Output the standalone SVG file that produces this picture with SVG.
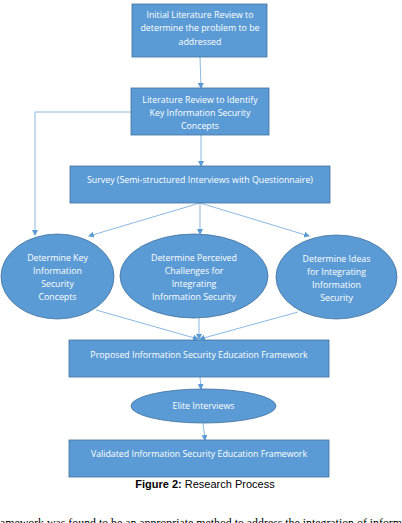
<svg xmlns="http://www.w3.org/2000/svg" width="402" height="523" viewBox="0 0 402 523">
<style>
.n{fill:#5b9bd5;stroke:#41719c;stroke-width:0.8}
.t{font-family:"Open Sans","Liberation Sans",sans-serif;font-size:8.8px;fill:#ffffff;text-anchor:middle}
.c{fill:none;stroke:#7fb0de;stroke-width:0.9}
.cap{font-family:"Liberation Sans",Arial,sans-serif;font-size:11px;fill:#000;text-anchor:middle}
</style>
<defs>
<marker id="ah" markerWidth="6" markerHeight="6" refX="5" refY="3" orient="auto" markerUnits="userSpaceOnUse">
<path d="M0,0 L6,3 L0,6 Z" fill="#5b9bd5"/>
</marker>
</defs>
<rect width="402" height="523" fill="#ffffff"/>
<g id="connectors">
<path class="c" d="M200,57 L201,88" marker-end="url(#ah)"/>
<path class="c" d="M131,112 L35,112 L35,235" marker-end="url(#ah)"/>
<path class="c" d="M201,135 L201,166" marker-end="url(#ah)"/>
<path class="c" d="M200,203 L89,236" marker-end="url(#ah)"/>
<path class="c" d="M200,203 L200,234" marker-end="url(#ah)"/>
<path class="c" d="M200,203 L309,236" marker-end="url(#ah)"/>
<path class="c" d="M96,310 L198,339" marker-end="url(#ah)"/>
<path class="c" d="M199,318 L199,339" marker-end="url(#ah)"/>
<path class="c" d="M298,312 L200,339" marker-end="url(#ah)"/>
<path class="c" d="M200,377 L201,389" marker-end="url(#ah)"/>
<path class="c" d="M203,423 L205,440" marker-end="url(#ah)"/>
</g>
<g id="n1">
<rect class="n" x="132" y="4" width="135" height="53"/>
<text class="t" x="200" y="18">Initial Literature Review to</text>
<text class="t" x="200" y="31">determine the problem to be</text>
<text class="t" x="200" y="45">addressed</text>
</g>
<g id="n2">
<rect class="n" x="131" y="88" width="138" height="47"/>
<text class="t" x="200" y="103">Literature Review to Identify</text>
<text class="t" x="200" y="116">Key Information Security</text>
<text class="t" x="200" y="129">Concepts</text>
</g>
<g id="n3">
<rect class="n" x="70" y="166" width="260" height="37"/>
<text class="t" x="200" y="183">Survey (Semi-structured Interviews with Questionnaire)</text>
</g>
<g id="n4">
<ellipse class="n" cx="57.5" cy="276.5" rx="56.5" ry="42.5"/>
<text class="t" x="57.5" y="261">Determine Key</text>
<text class="t" x="57.5" y="274">Information</text>
<text class="t" x="57.5" y="287">Security</text>
<text class="t" x="57.5" y="300">Concepts</text>
</g>
<g id="n5">
<ellipse class="n" cx="194" cy="276" rx="74" ry="42"/>
<text class="t" x="194" y="261">Determine Perceived</text>
<text class="t" x="194" y="274">Challenges for</text>
<text class="t" x="194" y="287">Integrating</text>
<text class="t" x="194" y="300">Information Security</text>
</g>
<g id="n6">
<ellipse class="n" cx="336.5" cy="277" rx="60.5" ry="42"/>
<text class="t" x="336.5" y="262">Determine Ideas</text>
<text class="t" x="336.5" y="275">for Integrating</text>
<text class="t" x="336.5" y="288">Information</text>
<text class="t" x="336.5" y="301">Security</text>
</g>
<g id="n7">
<rect class="n" x="69" y="340" width="260" height="37"/>
<text class="t" x="199" y="358">Proposed Information Security Education Framework</text>
</g>
<g id="n8">
<ellipse class="n" cx="203.5" cy="406" rx="72.5" ry="17"/>
<text class="t" x="203.5" y="409">Elite Interviews</text>
</g>
<g id="n9">
<rect class="n" x="69" y="440" width="260" height="37"/>
<text class="t" x="199" y="457">Validated Information Security Education Framework</text>
</g>
<text class="cap" x="205" y="488"><tspan font-weight="bold">Figure 2:</tspan> Research Process</text>
<text x="0" y="527" font-family="Liberation Serif,serif" font-size="13px" fill="#000" textLength="402" lengthAdjust="spacingAndGlyphs">amework was found to be an appropriate method to address the integration of inform</text>
</svg>
